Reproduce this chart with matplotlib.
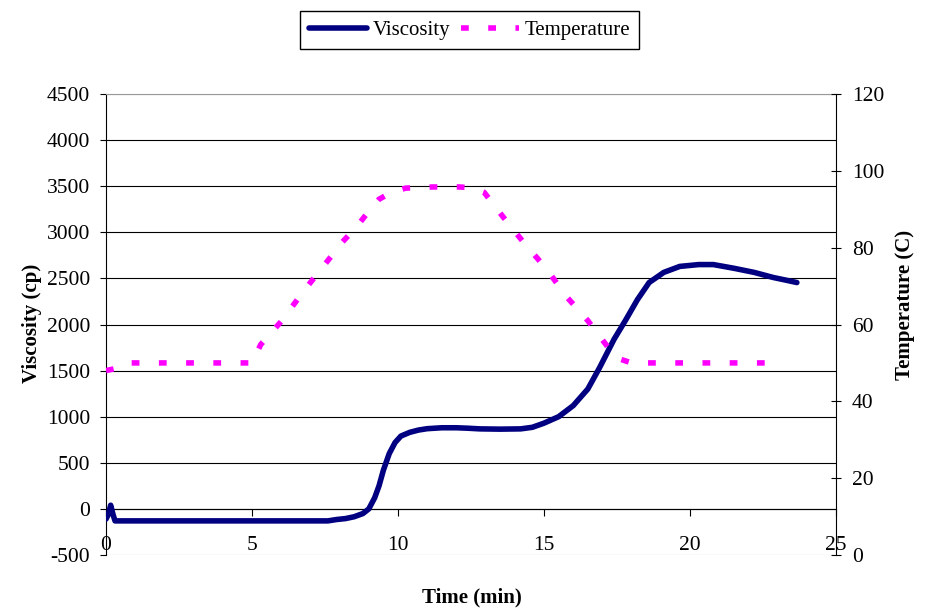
import matplotlib.pyplot as plt

plt.rcParams['font.family'] = ['Liberation Serif', 'DejaVu Serif']
plt.rcParams['axes.unicode_minus'] = False

#%% data
# viscosity profile (cp) vs time (min)
visc_time = [0, 0.08, 0.16, 0.24, 0.31, 1, 2, 3, 4, 5, 6, 7, 7.6, 7.9, 8.2,
             8.5, 8.8, 9.0, 9.2, 9.35, 9.5, 9.7, 9.9, 10.1, 10.4, 10.7, 11.0,
             11.5, 12.0, 12.4, 12.8, 13.5, 14.2, 14.6, 15.0, 15.5, 16.0, 16.5,
             16.9, 17.4, 17.8, 18.2, 18.6, 19.1, 19.65, 20.3, 20.8, 21.5, 22.2,
             22.85, 23.3, 23.66]
viscosity = [-110, -60, 40, -60, -130, -130, -130, -130, -130, -130, -130,
             -130, -130, -115, -105, -85, -50, 0, 120, 250, 420, 600, 720, 790,
             830, 855, 870, 880, 880, 875, 868, 865, 868, 885, 930, 1000, 1120,
             1300, 1530, 1840, 2050, 2270, 2455, 2565, 2630, 2650, 2650, 2610,
             2565, 2510, 2480, 2455]

# temperature profile (C) vs time (min)
temp_time = [0, 0.3, 0.7, 1, 2, 3, 4, 5, 5.3, 6, 6.8, 7.5, 8.1, 8.6, 9.0, 9.35,
             9.8, 10.27, 11.2, 12.1, 12.5, 12.95, 13.6, 14.3, 15.07, 15.8, 16.5,
             17.0, 17.3, 17.6, 18.0, 19, 20, 21, 22, 23.1]
temperature = [48, 48.5, 50, 50, 50, 50, 50, 50, 54.8, 60.8, 69, 75.7, 81.5,
               85.6, 89.5, 92.6, 94.5, 95.5, 95.8, 95.8, 95.6, 94.4, 88, 81.4,
               74.6, 67, 61, 56, 53, 51, 50, 50, 50, 50, 50, 50]

visc_ticks = list(range(-500, 5000, 500))
temp_ticks = list(range(0, 140, 20))
time_ticks = list(range(0, 30, 5))

#%% figure
fig = plt.figure(figsize=(9.37, 6.13), dpi=100)
ax = fig.add_axes([106 / 937, 1 - 555 / 613, 730 / 937, 461 / 613])

# viscosity on the left axis
lv, = ax.plot(visc_time, viscosity, color='#000080', lw=4,
              solid_capstyle='round', label='Viscosity', zorder=3)
ax.set_xlim(0, 25)
ax.set_ylim(-500, 4500)
ax.set_yticks(visc_ticks)
ax.set_xticks(time_ticks)
ax.tick_params(axis='y', direction='out', length=4.3, width=0.8, pad=7,
               labelsize=15.5)
ax.tick_params(axis='x', direction='out', length=5, width=0.8, pad=14.5,
               labelsize=15.5)

# horizontal grid, the outer lines are lighter
ax.grid(axis='y', color='black', lw=0.8)
ax.set_axisbelow(True)
gl = ax.get_ygridlines()
gl[0].set_color('#999999')
gl[-1].set_color('#999999')

# x axis sits on zero viscosity
ax.spines['bottom'].set_position(('data', 0))
ax.spines['bottom'].set_linewidth(0.8)
ax.spines['left'].set_linewidth(0.8)
ax.spines['top'].set_color('#999999')
ax.spines['right'].set_visible(False)

ax.set_xlabel('Time (min)', fontsize=15, fontweight='bold', va='center')
ax.xaxis.set_label_coords(0.501, -0.093)
ax.set_ylabel('Viscosity (cp)', fontsize=15, fontweight='bold', va='center')
ax.yaxis.set_label_coords(-0.101, 0.503)

# temperature on the right axis
ax2 = ax.twinx()
lt, = ax2.plot(temp_time, temperature, color='#ff00ff', lw=4,
               dashes=(1.4, 3.5), dash_capstyle='butt', label='Temperature')
ax2.set_ylim(0, 120)
ax2.set_yticks(temp_ticks)
ax2.tick_params(axis='y', direction='inout', length=7.2, width=0.8, pad=8,
                labelsize=15.5)
for s in ['top', 'bottom', 'left']:
    ax2.spines[s].set_visible(False)
ax2.spines['right'].set_linewidth(0.8)
ax2.set_ylabel('Temperature (C)', fontsize=15, fontweight='bold',
               rotation=90, va='center')
ax2.yaxis.set_label_coords(1.0945, 0.542)

# legend on top of the figure
leg = fig.legend(handles=[lv, lt], loc='center', ncol=2,
                 bbox_to_anchor=(0.501, 0.951), bbox_transform=fig.transFigure,
                 fontsize=15, handlelength=2.8, handletextpad=0.25,
                 columnspacing=0.5, borderpad=0.45, fancybox=False,
                 edgecolor='black', framealpha=1)
leg.get_frame().set_linewidth(1)

fig.savefig('out.png', dpi=100)
